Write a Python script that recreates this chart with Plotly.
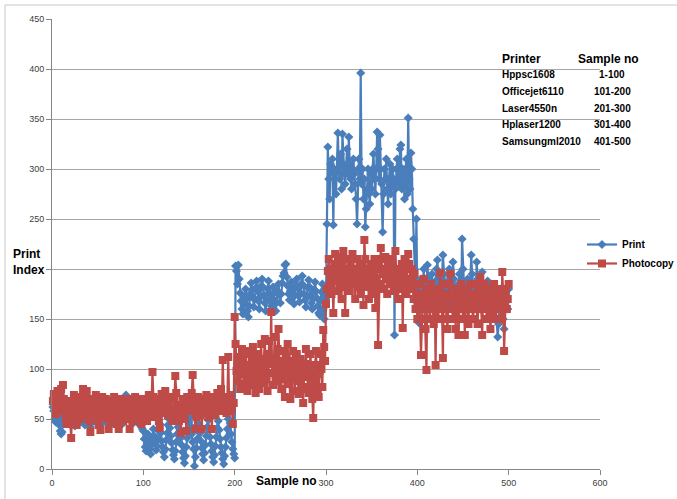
import plotly.graph_objects as go

# ---------------- data ----------------
print_1_100 = [62,58,50,47,55,60,52,44,38,35, 37,48,55,60,52,57,63,50,45,55,
               58,62,54,48,43,51,60,66,58,52, 47,55,62,57,50,44,53,60,64,56,
               49,42,46,55,61,58,52,47,56,63, 60,54,49,45,52,58,62,56,50,47,
               53,59,64,58,51,46,54,61,57,52, 48,55,60,63,56,50,45,53,58,62,
               74,66,57,50,54,60,56,49,46,52, 58,63,57,50,45,49,55,47,40,38]
print_101_200 = [30,22,18,25,35,28,20,15,24,32, 40,33,27,19,23,30,38,45,36,28,
                 22,17,12,20,29,36,44,50,41,33, 26,19,14,10,18,27,35,42,48,39,
                 31,24,17,11,6,13,22,31,40,47, 52,43,35,27,20,3,12,21,30,38,
                 45,36,28,21,15,9,16,24,33,42, 49,40,32,25,18,12,7,14,23,32,
                 41,48,39,30,22,16,10,5,13,22, 31,40,50,58,46,35,27,20,15,11]
print_201_300 = [203,198,185,204,190,176,168,160,155,164, 172,180,170,158,152,163,175,186,179,171,
                 162,170,181,188,178,168,160,172,183,190, 182,174,166,158,170,180,188,176,168,163,
                 171,182,176,165,158,167,178,185,174,166, 175,186,193,196,204,205,192,183,175,169,
                 178,187,180,172,165,174,183,190,181,173, 167,176,185,193,184,175,169,162,172,181,
                 189,182,174,166,160,170,179,187,178,171, 163,156,154,168,177,185,160,150,175,170]
print_301_400 = [245,322,290,270,305,298,310,244,300,295, 275,298,336,300,290,315,280,335,305,295,
                 285,300,320,295,332,305,290,280,300,310, 295,285,270,245,300,310,290,396,285,300,
                 270,290,242,260,280,300,275,265,295,280, 300,315,290,275,300,337,320,290,334,300,
                 285,237,275,300,290,310,280,265,290,305, 275,285,300,290,134,280,300,310,290,285,
                 320,324,280,300,290,270,300,310,275,351, 290,280,316,300,260,230,200,180,250,165]
print_401_500 = [150,146,175,190,165,185,200,170,160,180, 204,190,175,165,185,195,170,160,178,188,
                 200,209,185,170,160,178,190,214,195,180, 170,160,175,188,200,185,170,165,207,190,
                 180,170,160,175,185,195,180,170,230,200, 185,175,165,180,190,170,160,185,214,195,
                 180,170,160,175,207,190,180,168,160,178, 197,185,175,165,160,180,188,170,162,175,
                 185,178,165,170,180,160,150,132,145,170, 180,175,160,150,140,165,175,170,160,180]

photo_1_100 = [68,75,62,55,70,78,65,58,72,80, 66,84,70,60,52,45,58,68,62,48,
               31,55,66,74,60,52,44,62,72,65, 58,50,70,80,68,60,72,78,64,55,
               48,37,58,70,62,54,68,74,60,50, 44,56,39,65,72,60,52,66,70,58,
               50,40,62,68,55,48,64,72,60,52, 45,58,40,66,70,60,54,48,62,68,
               56,50,64,70,40,58,62,55,48,66, 72,60,54,48,62,70,58,45,66,52]
photo_101_200 = [62,70,55,48,66,74,58,52,68,97, 72,60,52,64,70,58,48,41,62,75,
                 68,56,64,78,70,62,54,66,72,60, 52,48,58,70,93,76,64,56,48,60,
                 36,62,70,58,50,64,38,72,66,58, 62,70,76,94,68,58,40,52,64,72,
                 60,54,66,40,70,62,56,68,74,60, 52,64,70,58,40,66,72,62,54,68,
                 76,64,58,70,80,66,109,72,60,68, 56,70,112,64,58,74,60,45,66,152]
photo_201_300 = [125,98,88,112,105,80,95,120,108,85, 100,115,92,78,104,118,96,84,110,122,
                 100,88,76,105,115,92,80,108,125,98, 86,110,130,102,90,78,115,128,105,157,
                 96,84,110,132,100,88,120,140,108,92, 80,104,118,96,72,90,112,125,100,85,
                 70,95,108,118,90,78,102,115,94,75, 88,110,98,80,66,92,105,120,96,82,
                 76,100,115,92,70,51,88,104,118,95, 80,72,98,115,100,82,139,122,108,165]
photo_301_400 = [180,198,210,185,200,175,192,156,205,215, 190,178,200,212,195,182,170,205,218,190,
                 156,200,185,210,195,178,205,190,215,200, 185,170,198,210,190,182,200,175,205,195,
                 164,229,210,190,200,182,170,195,205,188, 175,200,210,161,190,205,124,185,200,221,
                 210,195,180,200,212,190,175,205,195,185, 200,210,190,178,200,218,195,185,170,200,
                 190,180,205,141,195,210,188,175,200,215, 205,190,180,200,185,170,195,160,175,150]
photo_401_500 = [185,170,150,114,160,175,190,165,140,99, 180,170,160,150,185,175,160,145,170,104,
                 180,165,150,175,196,170,160,111,185,175, 160,150,140,170,185,195,170,160,150,175,
                 165,140,180,170,134,160,175,185,165,150, 170,134,180,165,160,145,175,185,170,160,
                 150,165,175,185,160,145,170,180,192,160, 134,175,165,185,160,150,170,180,165,140,
                 155,175,165,185,160,150,170,180,165,175, 160,150,197,175,118,165,180,160,170,185]

print_index = print_1_100 + print_101_200 + print_201_300 + print_301_400 + print_401_500
photocopy_index = photo_1_100 + photo_101_200 + photo_201_300 + photo_301_400 + photo_401_500
samples_print = list(range(1, len(print_index) + 1))
samples_photo = list(range(1, len(photocopy_index) + 1))

printers = ["Hppsc1608", "Officejet6110", "Laser4550n", "Hplaser1200", "Samsungml2010"]
sample_ranges = ["1-100", "101-200", "201-300", "301-400", "401-500"]

y_ticks = [0, 50, 100, 150, 200, 250, 300, 350, 400, 450]
# the 200 label is hidden behind the "Print Index" title in the reference
y_tick_text = ["0", "50", "100", "150", "", "250", "300", "350", "400", "450"]

# ---------------- figure ----------------
FONT = "Liberation Sans"
BLUE = "#4A7EBB"
RED = "#BE4B48"

fig = go.Figure()
fig.add_trace(go.Scatter(
    x=samples_print, y=print_index, name="Print", mode="lines+markers",
    line=dict(color=BLUE, width=2.2),
    marker=dict(symbol="diamond", size=7, color=BLUE),
    cliponaxis=False))
fig.add_trace(go.Scatter(
    x=samples_photo, y=photocopy_index, name="Photocopy", mode="lines+markers",
    line=dict(color=RED, width=2.2),
    marker=dict(symbol="square", size=8, color=RED),
    cliponaxis=False))

L, R, T, B = 52, 77, 19, 30
W, H = 677, 499
pw, ph = W - L - R, H - T - B

def px_x(px):
    return (px - L) / pw

def px_y(py):
    return (H - B - py) / ph

annotations = []
# axis titles
annotations.append(dict(text="<b>Print<br>Index</b>", x=px_x(11), y=px_y(262), xref="paper", yref="paper",
                        xanchor="left", showarrow=False, font=dict(family=FONT, size=12, color="black"), align="left"))
annotations.append(dict(text="<b>Sample no</b>", x=px_x(286), y=px_y(490), xref="paper", yref="paper",
                        showarrow=False, font=dict(family=FONT, size=12, color="black")))
# table
annotations.append(dict(text="<b>Printer</b>", x=px_x(500), y=px_y(50), xref="paper", yref="paper",
                        xanchor="left", showarrow=False, font=dict(family=FONT, size=12, color="black")))
annotations.append(dict(text="<b>Sample no</b>", x=px_x(608), y=px_y(50), xref="paper", yref="paper",
                        xanchor="center", showarrow=False, font=dict(family=FONT, size=12, color="black")))
row_y = [67, 84, 101, 117, 134]
for name, rng, yy in zip(printers, sample_ranges, row_y):
    annotations.append(dict(text="<b>" + name + "</b>", x=px_x(500), y=px_y(yy), xref="paper", yref="paper",
                            xanchor="left", showarrow=False, font=dict(family=FONT, size=10, color="black")))
    annotations.append(dict(text="<b>" + rng + "</b>", x=px_x(612), y=px_y(yy), xref="paper", yref="paper",
                            xanchor="center", showarrow=False, font=dict(family=FONT, size=10, color="black")))

shapes = [
    dict(type="line", xref="paper", yref="paper", x0=px_x(5), x1=px_x(700), y0=px_y(5), y1=px_y(5),
         line=dict(color="#c8c8c8", width=1)),
    dict(type="line", xref="paper", yref="paper", x0=px_x(5), x1=px_x(5), y0=px_y(5), y1=px_y(520),
         line=dict(color="#c8c8c8", width=1)),
]

fig.update_layout(
    width=W, height=H,
    margin=dict(l=L, r=R, t=T, b=B, pad=0, autoexpand=False),
    paper_bgcolor="white", plot_bgcolor="white",
    font=dict(family=FONT, size=9, color="#404040"),
    showlegend=True,
    legend=dict(x=px_x(582), y=px_y(254), xanchor="left", yanchor="middle",
                font=dict(family=FONT, size=10, color="black", weight="bold"),
                itemwidth=30, tracegroupgap=4, bgcolor="rgba(0,0,0,0)"),
    xaxis=dict(range=[0, 600], tick0=0, dtick=100, showgrid=False, zeroline=False,
               showline=True, linecolor="#868686", linewidth=1,
               ticks="outside", ticklen=5, tickcolor="#868686",
               tickfont=dict(family=FONT, size=9, color="#404040")),
    yaxis=dict(range=[0, 450], tickmode="array", tickvals=y_ticks, ticktext=y_tick_text,
               showgrid=True, gridcolor="#a6a6a6", gridwidth=1,
               zeroline=False, showline=True, linecolor="#868686", linewidth=1,
               ticks="outside", ticklen=5, tickcolor="#868686",
               tickfont=dict(family=FONT, size=9, color="#404040")),
    annotations=annotations,
    shapes=shapes,
)

fig.write_html("out.html")
